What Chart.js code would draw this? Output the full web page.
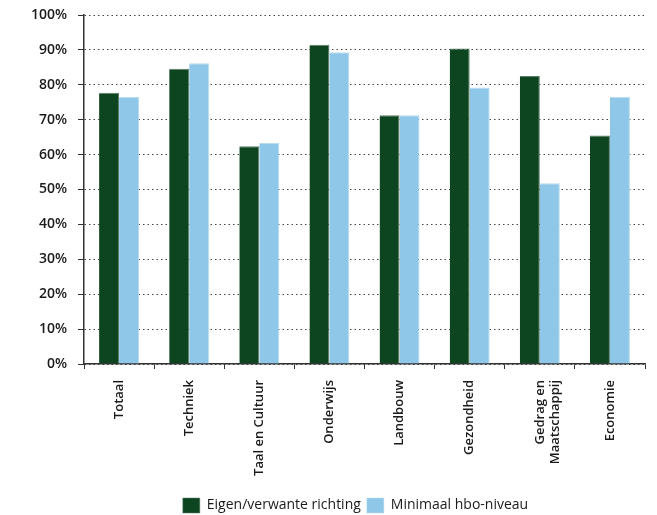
<!DOCTYPE html>
<html>
<head>
<meta charset="utf-8">
<script src="https://cdn.jsdelivr.net/npm/chart.js@4"></script>
<style>
  html, body { margin: 0; padding: 0; background: #fff; overflow: hidden; }
  #wrap { width: 657px; height: 515px; }
</style>
</head>
<body>
<div id="wrap"><canvas id="chart" width="657" height="515"></canvas></div>
<script>
// categories and values (percentages)
const categories = ['Totaal', 'Techniek', 'Taal en Cultuur', 'Onderwijs', 'Landbouw', 'Gezondheid', ['Gedrag en', 'Maatschappij'], 'Economie'];
const eigenRichting = [77.7, 84.6, 62.4, 91.5, 71.3, 90.4, 82.5, 65.5];
const minimaalHbo = [76.6, 86.2, 63.3, 89.3, 71.3, 79.2, 51.8, 76.6];
const yTicks = [0, 10, 20, 30, 40, 50, 60, 70, 80, 90, 100];

const darkGreen = '#0c4520';
const lightBlue = '#8fc7e8';
const fontFamily = '"Open Sans", "DejaVu Sans", sans-serif';

// the legend in the original sits a bit right of centre
const shiftLegend = {
    id: 'shiftLegend',
    afterLayout(chart) {
        chart.legend.left += 33;
        chart.legend.right += 33;
    }
};

new Chart(document.getElementById('chart'), {
    type: 'bar',
    data: {
        labels: categories,
        datasets: [{
            label: 'Eigen/verwante richting',
            data: eigenRichting,
            backgroundColor: darkGreen,
            borderColor: '#5b7c66',
            borderWidth: { top: 1, right: 1, left: 0, bottom: 0 },
            categoryPercentage: 0.57,
            barPercentage: 1.0
        }, {
            label: 'Minimaal hbo-niveau',
            data: minimaalHbo,
            backgroundColor: lightBlue,
            borderColor: '#b8dcf0',
            borderWidth: { top: 1, right: 1, left: 0, bottom: 0 },
            categoryPercentage: 0.57,
            barPercentage: 1.0
        }]
    },
    options: {
        responsive: false,
        animation: false,
        layout: { padding: { top: 0, right: 12, left: 0, bottom: -8 } },
        plugins: {
            legend: {
                position: 'bottom',
                labels: {
                    color: '#1a1a1a',
                    font: { family: fontFamily, size: 14 },
                    boxWidth: 17,
                    boxHeight: 15,
                    padding: 6
                }
            },
            tooltip: { enabled: false }
        },
        scales: {
            x: {
                grid: {
                    display: true,
                    drawOnChartArea: false,
                    drawTicks: true,
                    tickLength: 5,
                    color: '#333',
                    offset: true
                },
                border: { display: true, color: '#333', width: 1.5 },
                ticks: {
                    color: '#1a1a1a',
                    font: { family: fontFamily, size: 13, weight: '600' },
                    minRotation: 90,
                    maxRotation: 90,
                    padding: 11
                },
                afterFit: (scale) => { scale.height = 128; }
            },
            y: {
                min: 0,
                max: 100,
                afterBuildTicks: (scale) => { scale.ticks = yTicks.map(v => ({ value: v })); },
                grid: {
                    color: '#444',
                    lineWidth: 1,
                    tickLength: 6,
                    tickColor: '#333',
                    tickBorderDash: []
                },
                border: { display: true, color: '#333', width: 1.5, dash: [1.5, 3] },
                ticks: {
                    color: '#1a1a1a',
                    font: { family: fontFamily, size: 14, weight: '600' },
                    padding: 11,
                    callback: (v) => v + '%'
                },
                afterFit: (scale) => {
                    scale.width = 84;
                    scale.paddingTop = 15;
                    scale.paddingBottom = 9;
                }
            }
        }
    },
    plugins: [shiftLegend]
});
</script>
</body>
</html>
